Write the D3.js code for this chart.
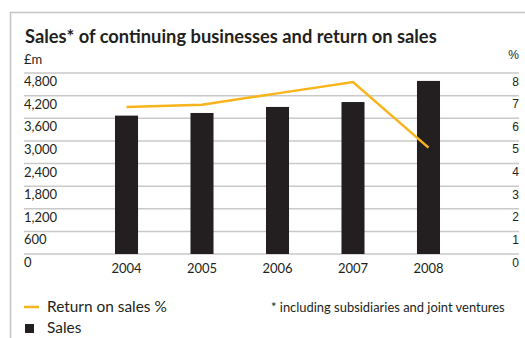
<!DOCTYPE html>
<html>
<head>
<meta charset="utf-8">
<script src="https://cdn.jsdelivr.net/npm/d3@7"></script>
<style>
  html, body { margin: 0; padding: 0; background: #ffffff; }
  svg { display: block; }
</style>
</head>
<body>
<svg id="chart" width="525" height="338"></svg>
<script>
const years = ["2004", "2005", "2006", "2007", "2008"];
const sales = [3670, 3740, 3900, 4030, 4590];
const returnOnSales = [6.5, 6.6, 7.1, 7.6, 4.7];
const salesTicks = [0, 600, 1200, 1800, 2400, 3000, 3600, 4200, 4800];
const pctTicks = [0, 1, 2, 3, 4, 5, 6, 7, 8];

const titleText = "Sales* of continuing businesses and return on sales";
const footnote = "* including subsidiaries and joint ventures";

const ink = "#231f20";
const gold = "#f8b41a";
const grid = "#c9c9c9";
const font = "Lato, 'Open Sans', sans-serif";

const svg = d3.select("#chart");

// frame
svg.append("path")
  .attr("d", "M10.5,338 V12.5 H525")
  .attr("fill", "none")
  .attr("stroke", "#c4c4c4")
  .attr("stroke-width", 1.5);

// helper: fit a text element to a target width by font size
function fitWidth(sel, target) {
  const w = sel.node().getComputedTextLength();
  const fs = parseFloat(sel.attr("font-size"));
  sel.attr("font-size", fs * target / w);
}

// title
const title = svg.append("text")
  .attr("x", 25).attr("y", 43)
  .attr("font-family", font)
  .attr("font-weight", 700)
  .attr("font-size", 19)
  .attr("fill", ink)
  .text(titleText);
fitWidth(title, 412);

const x = d3.scaleBand().domain(years).range([39.5, 515.5]).paddingInner(0.695).paddingOuter(1);
const yL = d3.scaleLinear().domain([0, 4800]).range([254, 73]);
const yR = d3.scaleLinear().domain([0, 8]).range([254, 73]);

// gridlines
svg.append("g").selectAll("line").data(salesTicks).join("line")
  .attr("x1", 24).attr("x2", 519)
  .attr("y1", d => yL(d)).attr("y2", d => yL(d))
  .attr("stroke", grid).attr("stroke-width", 1.5);

// left axis labels (below gridlines)
const leftAxis = d3.axisLeft(yL).tickValues(salesTicks).tickSize(0).tickPadding(0)
  .tickFormat(d3.format(","));
const gL = svg.append("g").attr("transform", "translate(24,0)").call(leftAxis);
gL.select(".domain").remove();
gL.selectAll("text")
  .attr("text-anchor", "start")
  .attr("dy", null)
  .attr("y", 12.5)
  .attr("font-family", font)
  .attr("font-size", 13)
  .attr("fill", ink);

// right axis labels
const rightAxis = d3.axisRight(yR).tickValues(pctTicks).tickSize(0).tickPadding(0);
const gR = svg.append("g").attr("transform", "translate(519,0)").call(rightAxis);
gR.select(".domain").remove();
gR.selectAll("text")
  .attr("text-anchor", "end")
  .attr("dy", null)
  .attr("y", 12)
  .attr("font-family", "'Liberation Sans', Arial, sans-serif")
  .attr("font-size", 12)
  .attr("fill", ink);

// unit labels
svg.append("text").attr("x", 24).attr("y", 64)
  .attr("font-family", font).attr("font-size", 13).attr("fill", ink).text("£m");
svg.append("text").attr("x", 519).attr("y", 59).attr("text-anchor", "end")
  .attr("font-family", "'Liberation Sans', Arial, sans-serif").attr("font-size", 12).attr("fill", ink).text("%");

// bars
svg.append("g").selectAll("rect").data(years).join("rect")
  .attr("x", d => x(d))
  .attr("width", x.bandwidth())
  .attr("y", (d, i) => yL(sales[i]))
  .attr("height", (d, i) => yL(0) - yL(sales[i]))
  .attr("fill", ink);

// x axis labels
const bottomAxis = d3.axisBottom(x).tickSize(0).tickPadding(0);
const gB = svg.append("g").attr("transform", "translate(0,254)").call(bottomAxis);
gB.select(".domain").remove();
gB.selectAll("text")
  .attr("dy", null)
  .attr("y", 18.5)
  .attr("font-family", font)
  .attr("font-size", 13)
  .attr("fill", ink);

// line
const line = d3.line()
  .x((d, i) => x(years[i]) + x.bandwidth() / 2)
  .y(d => yR(d));
svg.append("path")
  .datum(returnOnSales)
  .attr("d", line)
  .attr("fill", "none")
  .attr("stroke", gold)
  .attr("stroke-width", 2.5)
  .attr("stroke-linejoin", "miter");

// legend
svg.append("line").attr("x1", 24).attr("x2", 39).attr("y1", 307).attr("y2", 307)
  .attr("stroke", gold).attr("stroke-width", 2.5);
const l1 = svg.append("text").attr("x", 47).attr("y", 312)
  .attr("font-family", font).attr("font-size", 15).attr("fill", ink).text("Return on sales %");
fitWidth(l1, 120);
svg.append("rect").attr("x", 25).attr("y", 324).attr("width", 9).attr("height", 9).attr("fill", ink);
svg.append("text").attr("x", 47).attr("y", 333)
  .attr("font-family", font).attr("font-size", l1.attr("font-size")).attr("fill", ink).text("Sales");
const fn = svg.append("text").attr("x", 271).attr("y", 312)
  .attr("font-family", font).attr("font-size", 13).attr("fill", ink).text(footnote);
fitWidth(fn, 234);
</script>
</body>
</html>
